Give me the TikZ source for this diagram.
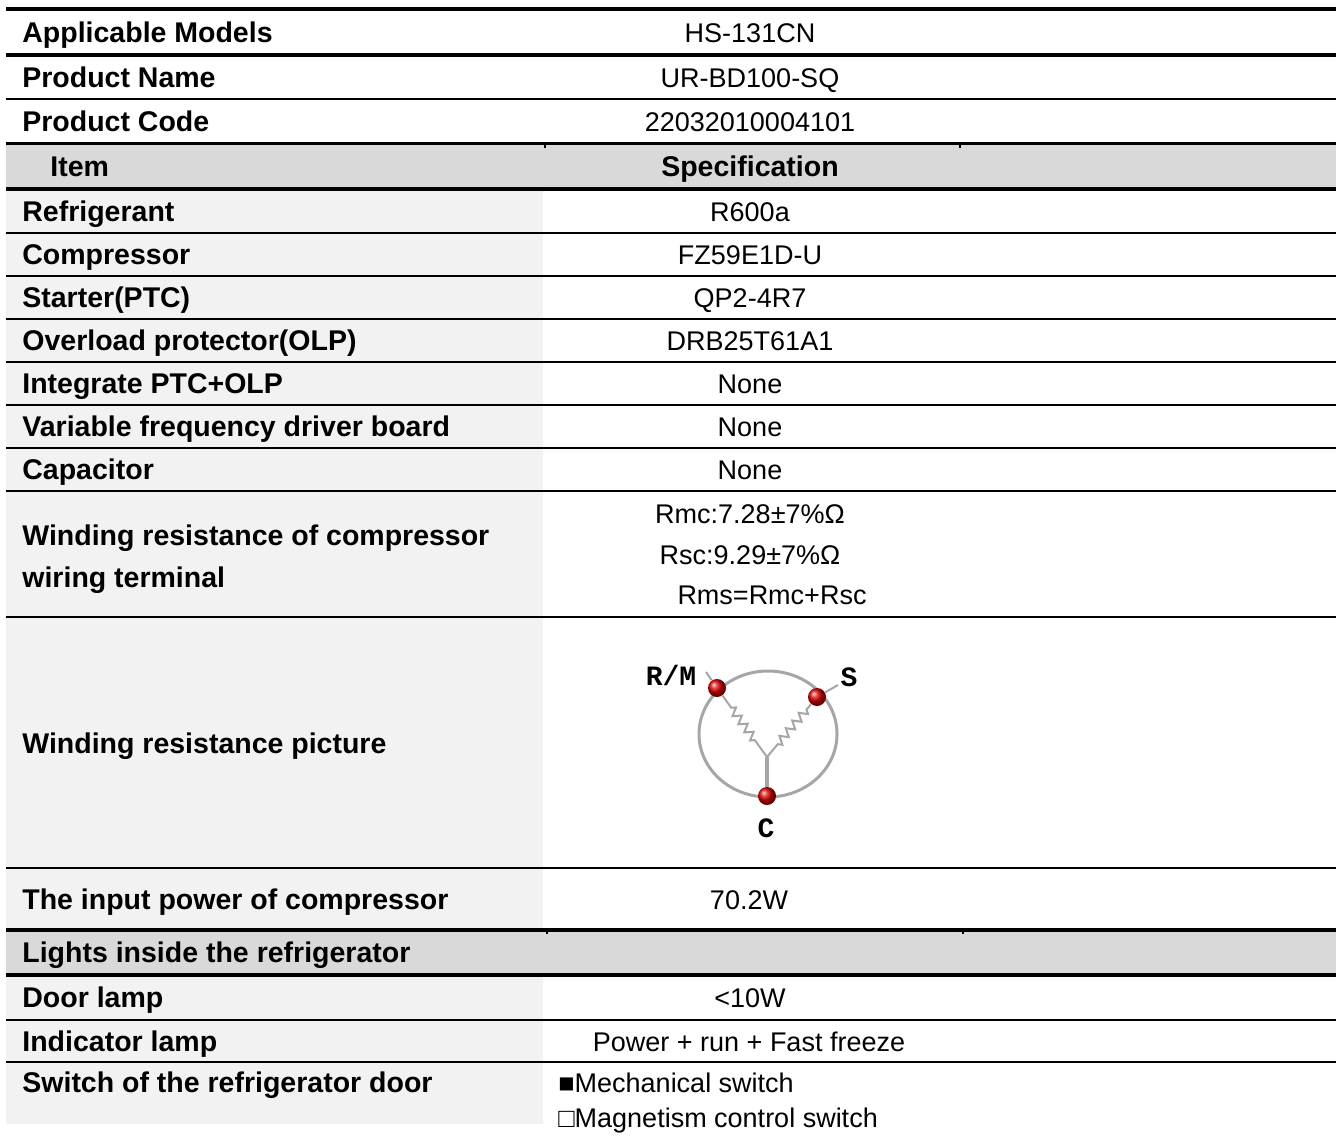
\documentclass[tikz,border=0pt]{standalone}
\usepackage{fontspec}
\setmainfont{Liberation Sans}
\newfontfamily\pinfont{Liberation Mono}
\usetikzlibrary{decorations.pathmorphing}
\definecolor{headgray}{HTML}{D9D9D9}
\definecolor{colgray}{HTML}{F2F2F2}
\definecolor{wiregray}{HTML}{A6A6A6}

\begin{document}
\begin{tikzpicture}[x=0.5pt,y=-0.5pt,
  key node/.style={anchor=base west,inner sep=0pt,font=\fontsize{14.25}{17}\selectfont\bfseries},
  value node/.style={anchor=base,inner sep=0pt,font=\fontsize{13.5}{16}\selectfont},
  head node/.style={anchor=base,inner sep=0pt,font=\fontsize{14.25}{17}\selectfont\bfseries},
  pin node/.style={circle,inner sep=0pt,minimum size=9pt,ball color=red!85!black},
  pin label/.style={inner sep=0pt,font=\pinfont\fontsize{14}{14}\selectfont\bfseries},
  zig wire/.style={decorate,decoration={zigzag,segment length=5pt,amplitude=2pt}},
  thin hrule/.style={line width=1pt},
  thick hrule/.style={line width=1.8pt}]

  \useasboundingbox[fill=white] (0,0) rectangle (1338,1136);

  \fill[colgray] (6,191) rectangle (543,1124);
  \fill[headgray] (6,145) rectangle (1336,188);
  \fill[headgray] (6,931) rectangle (1336,974);

  \draw[thick hrule] (6,9) -- (1336,9);
  \draw[line width=1.7pt] (6,55) -- (1336,55);
  \draw[thin hrule] (6,99) -- (1336,99);
  \draw[line width=1.5pt] (6,143.5) -- (1336,143.5);
  \draw[line width=2pt] (6,189) -- (1336,189);
  \draw[thin hrule] (6,233) -- (1336,233);
  \draw[thin hrule] (6,276) -- (1336,276);
  \draw[thin hrule] (6,319) -- (1336,319);
  \draw[thin hrule] (6,362) -- (1336,362);
  \draw[thin hrule] (6,404.5) -- (1336,404.5);
  \draw[thin hrule] (6,448) -- (1336,448);
  \draw[thin hrule] (6,490.5) -- (1336,490.5);
  \draw[thin hrule] (6,617) -- (1336,617);
  \draw[thin hrule] (6,868) -- (1336,868);
  \draw[thick hrule] (6,930) -- (1336,930);
  \draw[thick hrule] (6,975) -- (1336,975);
  \draw[thin hrule] (6,1019.5) -- (1336,1019.5);
  \draw[thin hrule] (6,1062) -- (1336,1062);
  \draw[line width=1pt] (545,145) -- (545,148) (960,145) -- (960,148);
  \draw[line width=1pt] (547,931) -- (547,934) (963,931) -- (963,934);

  \node[key node] (k1) at (22,42) {Applicable Models};
  \node[key node] (k2) at (22,87) {Product Name};
  \node[key node] (k3) at (22,131) {Product Code};
  \node[key node] (k4) at (50,176) {Item};
  \node[key node] (k5) at (22,221) {Refrigerant};
  \node[key node] (k6) at (22,264.5) {Compressor};
  \node[key node] (k7) at (22,307.5) {Starter(PTC)};
  \node[key node] (k8) at (22,350.5) {Overload protector(OLP)};
  \node[key node] (k9) at (22,393) {Integrate PTC+OLP};
  \node[key node] (k10) at (22,436) {Variable frequency driver board};
  \node[key node] (k11) at (22,479) {Capacitor};
  \node[key node] (k12) at (22,545) {Winding resistance of compressor};
  \node[key node] (k13) at (22,587) {wiring terminal};
  \node[key node] (k14) at (22,753) {Winding resistance picture};
  \node[key node] (k15) at (22,909) {The input power of compressor};
  \node[key node] (k16) at (22,962.5) {Lights inside the refrigerator};
  \node[key node] (k17) at (22,1007) {Door lamp};
  \node[key node] (k18) at (22,1051) {Indicator lamp};
  \node[key node] (k19) at (22,1092) {Switch of the refrigerator door};

  \node[value node] (v1) at (750,42) {HS-131CN};
  \node[value node] (v2) at (750,87) {UR-BD100-SQ};
  \node[value node] (v3) at (750,131) {22032010004101};
  \node[head node] (v4) at (750,176) {Specification};
  \node[value node] (v5) at (750,221) {R600a};
  \node[value node] (v6) at (750,264.5) {FZ59E1D-U};
  \node[value node] (v7) at (750,307.5) {QP2-4R7};
  \node[value node] (v8) at (750,350.5) {DRB25T61A1};
  \node[value node] (v9) at (750,393) {None};
  \node[value node] (v10) at (750,436) {None};
  \node[value node] (v11) at (750,479) {None};
  \node[value node] (v12) at (750,523) {Rmc:7.28±7\%Ω};
  \node[value node] (v13) at (750,564) {Rsc:9.29±7\%Ω};
  \node[value node] (v14) at (772,604) {Rms=Rmc+Rsc};
  \node[value node] (v15) at (749,909) {70.2W};
  \node[value node] (v17) at (750,1007) {<10W};
  \node[value node] (v18) at (749,1051) {Power + run + Fast freeze};
  \node[value node,anchor=base west] (v19) at (558,1092) {■Mechanical switch};
  \node[value node,anchor=base west] (v20) at (558,1127) {□Magnetism control switch};

  \draw[wiregray,line width=1.5pt] (768,734) ellipse [x radius=69,y radius=63];
  \node[pin node] (RM) at (717,688) {};
  \node[pin node] (S) at (817,697) {};
  \node[pin node] (C) at (767,796) {};
  \coordinate (J) at (767,757);
  \coordinate (RM end) at (706,672);
  \coordinate (S end) at (838,685);
  \draw[wiregray,line width=1pt] (RM) -- (RM end) (S) -- (S end);
  \draw[wiregray,line width=1pt,zig wire,decoration={pre length=7.5pt,post length=8.5pt}] (RM) -- (J);
  \draw[wiregray,line width=1pt,zig wire,decoration={pre length=3.5pt,post length=8pt}] (S) -- (J);
  \draw[wiregray,line width=1.6pt] (J) -- (C);
  \node[pin label] (RM label) at (671,675) {R/M};
  \node[pin label] (S label) at (849,677) {S};
  \node[pin label] (C label) at (766,828) {C};

\end{tikzpicture}
\end{document}
